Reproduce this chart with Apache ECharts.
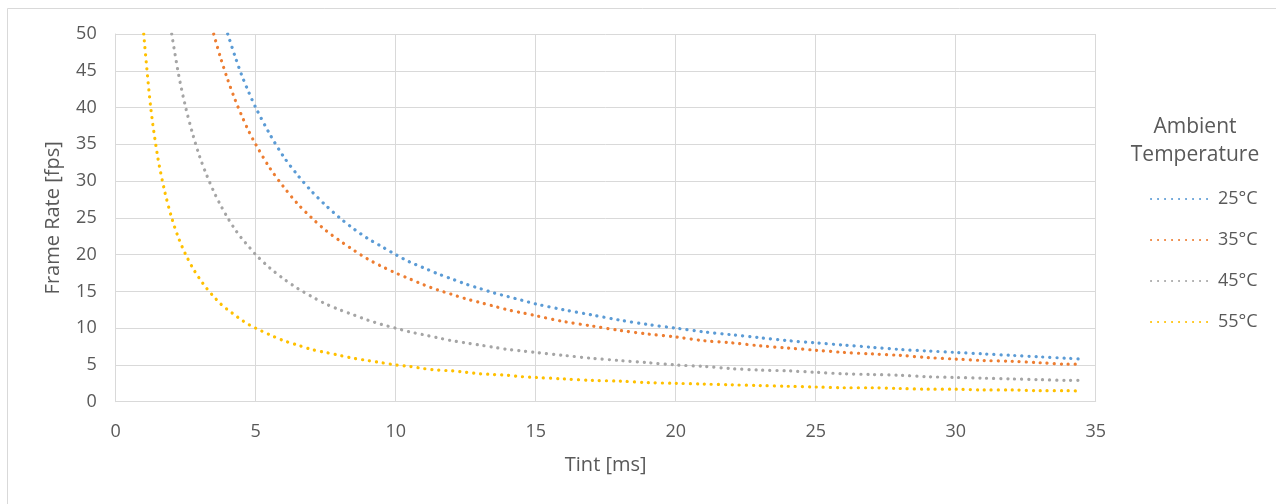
<!DOCTYPE html>
<html><head><meta charset="utf-8">
<script src="https://cdn.jsdelivr.net/npm/echarts@6/dist/echarts.min.js"></script>
<style>html,body{margin:0;padding:0;background:#fff}#c{width:1276px;height:504px}</style>
</head><body><div id="c"></div>
<script>
const tint = [1,1.25,1.5,1.75,2,2.25,2.5,2.75,3,3.25,3.5,3.75,4,4.25,4.5,4.75,5,5.5,6,6.5,7,7.5,8,8.5,9,9.5,10,10.5,11,11.5,12,12.5,13,13.5,14,14.5,15,16,17,18,19,20,21,22,23,24,25,26,27,28,29,30,31,32,33,34,34.5];
const t25 = [null,null,null,null,null,null,null,null,null,null,null,null,50,47.1,44.4,42.1,40,36.4,33.3,30.8,28.6,26.7,25,23.5,22.2,21.1,20,19,18.2,17.4,16.7,16,15.4,14.8,14.3,13.8,13.3,12.5,11.8,11.1,10.5,10,9.5,9.1,8.7,8.3,8,7.7,7.4,7.1,6.9,6.7,6.5,6.3,6.1,5.9,5.8];
const t35 = [null,null,null,null,null,null,null,null,null,null,50,46.7,43.8,41.2,38.9,36.8,35,31.8,29.2,26.9,25,23.3,21.9,20.6,19.4,18.4,17.5,16.7,15.9,15.2,14.6,14,13.5,13,12.5,12.1,11.7,10.9,10.3,9.7,9.2,8.8,8.3,8,7.6,7.3,7,6.7,6.5,6.3,6,5.8,5.6,5.5,5.3,5.1,5.1];
const t45 = [null,null,null,null,50,44.4,40,36.4,33.3,30.8,28.6,26.7,25,23.5,22.2,21.1,20,18.2,16.7,15.4,14.3,13.3,12.5,11.8,11.1,10.5,10,9.5,9.1,8.7,8.3,8,7.7,7.4,7.1,6.9,6.7,6.3,5.9,5.6,5.3,5,4.8,4.5,4.3,4.2,4,3.8,3.7,3.6,3.4,3.3,3.2,3.1,3,2.9,2.9];
const t55 = [50,40,33.3,28.6,25,22.2,20,18.2,16.7,15.4,14.3,13.3,12.5,11.8,11.1,10.5,10,9.1,8.3,7.7,7.1,6.7,6.3,5.9,5.6,5.3,5,4.8,4.5,4.3,4.2,4,3.8,3.7,3.6,3.4,3.3,3.1,2.9,2.8,2.6,2.5,2.4,2.3,2.2,2.1,2,1.9,1.9,1.8,1.7,1.7,1.6,1.6,1.5,1.5,1.45];
const seriesNames = ['25°C','35°C','45°C','55°C'];
const seriesData = [t25,t35,t45,t55];
const colors = ['#5B9BD5','#ED7D31','#A5A5A5','#FFC000'];
const legendTitle = 'Ambient\nTemperature';

const font = "'Open Sans', 'Noto Sans', sans-serif";
const txt = '#595959';
const chart = echarts.init(document.getElementById('c'), null, {renderer:'canvas'});
chart.setOption({
  animation:false,
  backgroundColor:'#fff',
  textStyle:{fontFamily:font},
  grid:{left:115.7,right:180.3,top:34,bottom:102.3,containLabel:false},
  xAxis:{type:'value',min:0,max:35,interval:5,
    name:'Tint [ms]',nameLocation:'middle',nameGap:54,
    nameTextStyle:{color:txt,fontSize:20,fontFamily:font},
    axisLine:{show:true,lineStyle:{color:'#D9D9D9',width:1}},
    axisTick:{show:false},
    axisLabel:{color:txt,fontSize:18,margin:21,fontFamily:font},
    splitLine:{show:true,lineStyle:{color:'#D9D9D9',width:1}}},
  yAxis:{type:'value',min:0,max:50,interval:5,
    name:'Frame Rate [fps]',nameLocation:'middle',nameGap:52,
    nameTextStyle:{color:txt,fontSize:20,fontFamily:font},
    axisLine:{show:true,lineStyle:{color:'#D9D9D9',width:1}},
    axisTick:{show:false},
    axisLabel:{color:txt,fontSize:18,margin:19,fontFamily:font},
    splitLine:{show:true,lineStyle:{color:'#D9D9D9',width:1}}},
  legend:{orient:'vertical',left:1145,top:185,itemWidth:62,itemHeight:14,itemGap:23,
    itemStyle:{opacity:0},
    textStyle:{color:txt,fontSize:18,fontFamily:font},
    data:seriesNames},
  graphic:[
    {type:'rect',shape:{x:7.5,y:8.5,width:1300,height:520},style:{fill:'none',stroke:'#D9D9D9',lineWidth:1},silent:true,z:-1},
    {type:'text',x:1195,y:141,style:{text:legendTitle,fill:txt,font:"21px "+font,align:'center',verticalAlign:'middle',lineHeight:28},z:10}
  ],
  series:seriesNames.map((n,i)=>({
    name:n,type:'line',showSymbol:false,symbol:'none',smooth:0.3,connectNulls:false,
    color:colors[i],
    lineStyle:{color:colors[i],width:3.2,type:[0.1,6.9],cap:'round'},
    data:tint.map((x,j)=>[x,seriesData[i][j]])
  }))
});
</script></body></html>
